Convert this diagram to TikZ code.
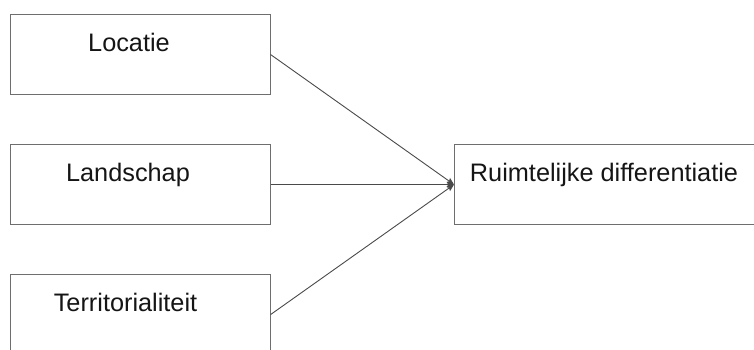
\documentclass[tikz,border=0pt]{standalone}
\usepackage{fontspec}
\setmainfont{Liberation Sans}
\usetikzlibrary{arrows.meta}
\definecolor{boxline}{HTML}{6E6E6E}
\definecolor{linkline}{HTML}{4A4A4A}
\definecolor{labeltext}{HTML}{151515}
\begin{document}
\begin{tikzpicture}[x=1pt,y=-1pt,
  factor/.style={draw=boxline,line width=1.1pt,fill=white,minimum width=260pt,minimum height=80pt,inner sep=0pt,anchor=north west},
  caption/.style={anchor=base,inner sep=0pt,text=labeltext,font=\fontsize{25.3}{30}\selectfont},
  link/.style={draw=linkline,line width=0.9pt,-{Stealth[length=7pt,width=6pt,inset=1pt]}}]
  \useasboundingbox (0,0) rectangle (754,349);
  \clip (0,0) rectangle (754,349);
  % influencing factors
  \node[factor] (loc) at (9.5,14) {};
  \node[factor] (land) at (9.5,144) {};
  \node[factor] (terr) at (9.5,274) {};
  % outcome
  \node[factor,minimum width=310pt] (rd) at (454,144) {};
  % labels
  \node[caption] (tloc) at (129,51) {Locatie};
  \node[caption] (tland) at (128,181) {Landschap};
  \node[caption] (tterr) at (125.5,311) {Territorialiteit};
  \node[caption] (trd) at (604,181) {Ruimtelijke differentiatie};
  % connectors
  \draw[link] (loc.east) -- (rd.west);
  \draw[link] (land.east) -- (rd.west);
  \draw[link] (terr.east) -- (rd.west);
\end{tikzpicture}
\end{document}
